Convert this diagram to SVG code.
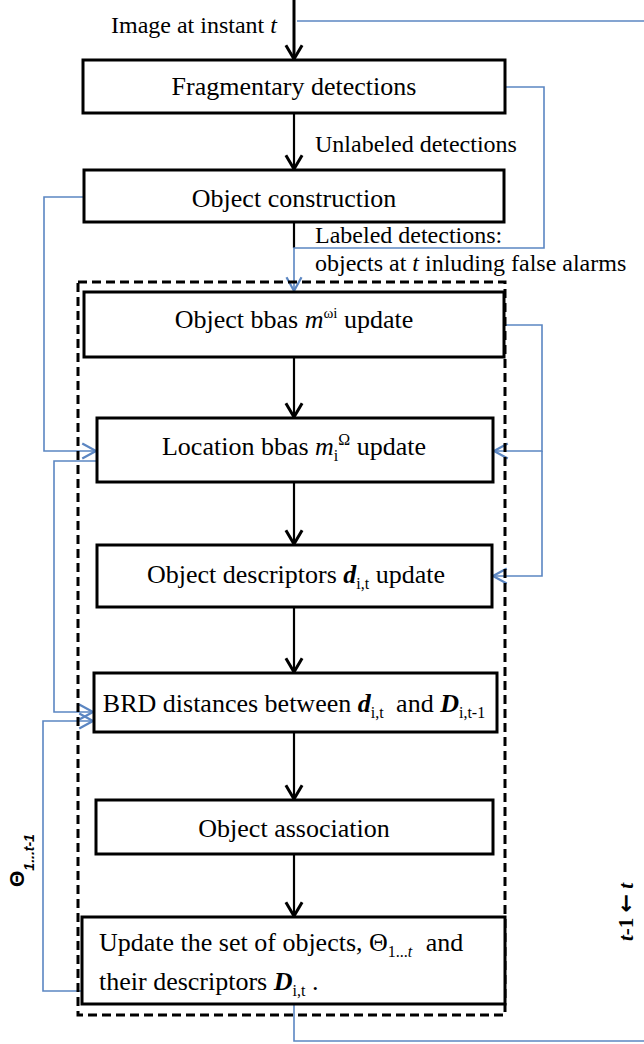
<svg xmlns="http://www.w3.org/2000/svg" width="644" height="1044" viewBox="0 0 644 1044">
<style>
.box{fill:#fff;stroke:#000;stroke-width:3}
.t{font-family:"Liberation Serif","Times New Roman",serif;font-size:26px;fill:#000}
.l{font-family:"Liberation Serif","Times New Roman",serif;font-size:24px;fill:#000}
.k{fill:none;stroke:#000;stroke-width:2.2}
.b{fill:none;stroke:#5b86c2;stroke-width:1.6}
.i{font-style:italic}
.bi{font-style:italic;font-weight:bold}
</style>
<defs>
<marker id="ak" markerUnits="userSpaceOnUse" markerWidth="20" markerHeight="20" viewBox="-14 -8 16 16" refX="0" refY="0" orient="auto" overflow="visible">
<path d="M-11,-6.5 L0,0 L-11,6.5" fill="none" stroke="#000" stroke-width="2.4"/>
</marker>
<marker id="ab" markerUnits="userSpaceOnUse" markerWidth="20" markerHeight="20" viewBox="-14 -8 16 16" refX="0" refY="0" orient="auto" overflow="visible">
<path d="M-11,-6 L0,0 L-11,6" fill="none" stroke="#5b86c2" stroke-width="1.8"/>
</marker>
</defs>

<g id="connectors">
<line class="k" x1="294" y1="0" x2="294" y2="59" style="stroke-width:3" marker-end="url(#ak)"/>
<line class="k" x1="294" y1="113" x2="294" y2="169" marker-end="url(#ak)"/>
<line class="k" x1="294" y1="222" x2="294" y2="248"/>
<line class="k" x1="294" y1="357" x2="294" y2="417" marker-end="url(#ak)"/>
<line class="k" x1="294" y1="482" x2="294" y2="544" marker-end="url(#ak)"/>
<line class="k" x1="294" y1="607" x2="294" y2="672" marker-end="url(#ak)"/>
<line class="k" x1="294" y1="732" x2="294" y2="799" marker-end="url(#ak)"/>
<line class="k" x1="294" y1="854" x2="294" y2="916" marker-end="url(#ak)"/>
<polyline class="b" points="297,21 644,21"/>
<polyline class="b" points="505,87 544,87 544,248 294,248 294,291" marker-end="url(#ab)"/>
<polyline class="b" points="84,197 44,197 44,451 96,451" marker-end="url(#ab)"/>
<polyline class="b" points="97,461 54,461 54,712 93,712" marker-end="url(#ab)"/>
<polyline class="b" points="82,991 43,991 43,721 93,721" marker-end="url(#ab)"/>
<polyline class="b" points="504,325 542,325 542,451 494,451" marker-end="url(#ab)"/>
<polyline class="b" points="542,451 542,576 493,576" marker-end="url(#ab)"/>
<polyline class="b" points="294,1004 294,1041 644,1041"/>
</g>

<g id="group-dashed">
<rect x="78" y="282" width="427" height="733" fill="none" stroke="#000" stroke-width="3" stroke-dasharray="9 5"/>
</g>

<g id="labels">
<text class="l" x="111" y="33">Image at instant <tspan class="i">t</tspan></text>
<text class="l" x="315" y="152">Unlabeled detections</text>
<text class="l" x="315" y="243">Labeled detections:</text>
<text class="l" x="315" y="271">objects at <tspan class="i">t</tspan> inluding false alarms</text>
<text transform="translate(24,887) rotate(-90)" font-family="Liberation Sans,Arial,sans-serif" font-weight="bold" font-size="21">Θ<tspan font-size="14" font-style="italic" dy="10">1...t-1</tspan></text>
<text transform="translate(633,941) rotate(-90)" font-family="Liberation Serif,Times New Roman,serif" font-weight="bold" font-size="21"><tspan font-style="italic">t</tspan>-1 <tspan font-family="DejaVu Sans,sans-serif" font-size="22">←</tspan> <tspan font-style="italic">t</tspan></text>
</g>

<g id="n1">
<rect class="box" x="83" y="60" width="422" height="53"/>
<text class="t" x="294" y="95" text-anchor="middle">Fragmentary detections</text>
</g>
<g id="n2">
<rect class="box" x="84" y="170" width="420" height="52"/>
<text class="t" x="294" y="207" text-anchor="middle">Object construction</text>
</g>
<g id="n3">
<rect class="box" x="84" y="292" width="420" height="65"/>
<text class="t" x="294" y="328" text-anchor="middle">Object bbas <tspan class="i">m</tspan><tspan font-size="15" dy="-10">ωi</tspan><tspan dy="10"> update</tspan></text>
</g>
<g id="n4">
<rect class="box" x="97" y="418" width="396" height="64"/>
<text class="t" x="294" y="455" text-anchor="middle">Location bbas <tspan class="i">m</tspan><tspan font-size="16" dy="6">i</tspan><tspan font-size="16" dy="-16">Ω</tspan><tspan dy="10"> update</tspan></text>
</g>
<g id="n5">
<rect class="box" x="97" y="545" width="395" height="62"/>
<text class="t" x="296" y="583" text-anchor="middle">Object descriptors <tspan class="bi">d</tspan><tspan font-size="16" dy="6">i,t</tspan><tspan dy="-6"> update</tspan></text>
</g>
<g id="n6">
<rect class="box" x="94" y="673" width="403" height="59"/>
<text class="t" x="294" y="712" text-anchor="middle">BRD distances between <tspan class="bi">d</tspan><tspan font-size="16" dy="6">i,t</tspan><tspan dy="-6" dx="6"> and </tspan><tspan class="bi">D</tspan><tspan font-size="16" dy="6">i,t-1</tspan></text>
</g>
<g id="n7">
<rect class="box" x="96" y="800" width="397" height="54"/>
<text class="t" x="294" y="837" text-anchor="middle">Object association</text>
</g>
<g id="n8">
<rect class="box" x="82" y="917" width="423" height="87"/>
<text class="t" x="99" y="951">Update the set of objects, Θ<tspan font-size="16" dy="6">1...</tspan><tspan font-size="16" class="i">t</tspan><tspan dy="-6" dx="7"> and</tspan></text>
<text class="t" x="99" y="990">their descriptors <tspan class="bi">D</tspan><tspan font-size="16" dy="6">i,t</tspan><tspan dy="-6"> .</tspan></text>
</g>
</svg>
